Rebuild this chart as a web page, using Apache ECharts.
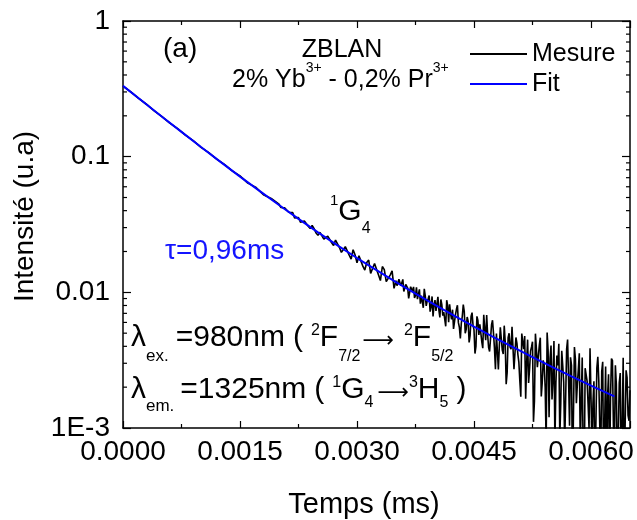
<!DOCTYPE html>
<html><head><meta charset="utf-8">
<script src="https://cdn.jsdelivr.net/npm/echarts@6/dist/echarts.min.js"></script>
<style>html,body{margin:0;padding:0;background:#fff}#c{width:637px;height:520px}</style>
</head><body><div id="c"></div>
<script>
const FONT = "'Liberation Sans', Arial, Helvetica, sans-serif";
const ARROW_FONT = "'DejaVu Sans', sans-serif";

// ---- data ----
const seriesNames = ['Mesure', 'Fit'];
const xTickLabels = ['0.0000', '0.0015', '0.0030', '0.0045', '0.0060'];
const yTickValues = [0.001, 0.01, 0.1, 1];
const yTickLabels = ['1E-3', '0.01', '0.1', '1'];
const yMinorTicks = [0.002,0.003,0.004,0.005,0.006,0.007,0.008,0.009,
                     0.02,0.03,0.04,0.05,0.06,0.07,0.08,0.09,
                     0.2,0.3,0.4,0.5,0.6,0.7,0.8,0.9];

const measured = [
 [0.0000,0.3310],[0.0001,0.2998],[0.0002,0.2685],[0.0003,0.2435],[0.0004,0.2178],
 [0.0005,0.1975],[0.0006,0.1768],[0.0007,0.1610],[0.0008,0.1440],[0.0009,0.1312],
 [0.0010,0.1172],[0.0011,0.1070],[0.0012,0.0960],[0.0013,0.0876],[0.0014,0.0785],
 [0.0015,0.0722],[0.0016,0.0638],[0.0017,0.0596],[0.0018,0.0524],[0.0019,0.0492],
 [0.002000,0.0446],[0.002025,0.0422],[0.002050,0.0414],[0.002075,0.0419],[0.002100,0.0413],
 [0.002125,0.0389],[0.002150,0.0381],[0.002175,0.0387],[0.002200,0.0354],[0.002225,0.0354],
 [0.002250,0.0356],[0.002275,0.0329],[0.002300,0.0328],[0.002325,0.0335],[0.002350,0.0332],
 [0.002375,0.0307],[0.002400,0.0295],[0.002425,0.0311],[0.002450,0.0295],[0.002475,0.0274],
 [0.002500,0.0263],[0.002525,0.0277],[0.002550,0.0276],[0.002575,0.0247],[0.002600,0.0249],
 [0.002625,0.0259],[0.002650,0.0260],[0.002675,0.0232],[0.002700,0.0221],[0.002725,0.0243],
 [0.002750,0.0228],[0.002775,0.0214],[0.002800,0.0197],[0.002825,0.0198],[0.002850,0.0217],
 [0.002875,0.0213],[0.002900,0.0188],[0.002925,0.0176],[0.002950,0.0206],[0.002975,0.0189],
 [0.003000,0.0165],[0.003025,0.0186],[0.003050,0.0182],[0.003075,0.0156],[0.003100,0.0146],
 [0.003125,0.0166],[0.003150,0.0173],[0.003175,0.0138],[0.003200,0.0142],[0.003225,0.0163],
 [0.003250,0.0162],[0.003275,0.0135],[0.003300,0.0122],[0.003325,0.0155],[0.003350,0.0147],
 [0.003375,0.0120],[0.003400,0.0122],[0.003425,0.0134],[0.003450,0.0144],[0.003475,0.0107],
 [0.0035000,0.01219],[0.0035125,0.01119],[0.0035250,0.01118],[0.0035375,0.01248],[0.0035500,0.01227],
 [0.0035625,0.01116],[0.0035750,0.01105],[0.0035875,0.01245],[0.0036000,0.01014],[0.0036125,0.00994],
 [0.0036250,0.01143],[0.0036375,0.01113],[0.0036500,0.01072],[0.0036625,0.00902],[0.0036750,0.00921],
 [0.0036875,0.01100],[0.0037000,0.01059],[0.0037125,0.01019],[0.0037250,0.01098],[0.0037375,0.00908],
 [0.0037500,0.00947],[0.0037625,0.01089],[0.0037750,0.00890],[0.0037875,0.00912],[0.0038000,0.01053],
 [0.0038125,0.00825],[0.0038250,0.00946],[0.0038375,0.00978],[0.0038500,0.00769],[0.0038625,0.01061],
 [0.0038750,0.00942],[0.0038875,0.00794],[0.0039000,0.00865],[0.0039125,0.00897],[0.0039250,0.00948],
 [0.0039375,0.00720],[0.0039500,0.00781],[0.0039625,0.00933],[0.0039750,0.00664],[0.0039875,0.00806],
 [0.0040000,0.00877],[0.0040125,0.00730],[0.0040250,0.00823],[0.0040375,0.00927],[0.0040500,0.00740],
 [0.0040625,0.00653],[0.0040750,0.00886],[0.0040875,0.00810],[0.0041000,0.00673],[0.0041125,0.00716],
 [0.0041250,0.00719],[0.0041375,0.00562],[0.0041500,0.00875],[0.0041625,0.00799],[0.0041750,0.00602],
 [0.0041875,0.00815],[0.0042000,0.00698],[0.0042125,0.00632],[0.0042250,0.00745],[0.0042375,0.00538],
 [0.0042500,0.00541],[0.0042625,0.00686],[0.0042750,0.00750],[0.0042875,0.00804],[0.0043000,0.00598],
 [0.0043125,0.00553],[0.0043250,0.00457],[0.0043375,0.00592],[0.0043500,0.00666],[0.0043625,0.00811],
 [0.0043750,0.00725],[0.0043875,0.00499],[0.0044000,0.00533],[0.0044125,0.00658],[0.0044250,0.00612],
 [0.0044375,0.00427],[0.0044500,0.00481],[0.0044625,0.00665],[0.0044750,0.00709],[0.0044875,0.00574],
 [0.0045000,0.00528],[0.0045125,0.00354],[0.0045250,0.00399],[0.0045375,0.00665],[0.0045500,0.00620],
 [0.0045625,0.00486],[0.0045750,0.00581],[0.0045875,0.00597],[0.0046000,0.00432],[0.0046125,0.00388],
 [0.0046250,0.00683],[0.0046375,0.00539],[0.0046500,0.00444],[0.0046625,0.00680],[0.0046750,0.00485],
 [0.0046875,0.00391],[0.0047000,0.00366],[0.0047125,0.00462],[0.0047250,0.00577],[0.0047375,0.00623],
 [0.0047500,0.00498],[0.0047625,0.00385],[0.0047750,0.00271],[0.0047875,0.00497],[0.0048000,0.00513],
 [0.0048125,0.00270],[0.0048250,0.00406],[0.0048375,0.00552],[0.0048500,0.00568],[0.0048625,0.00375],
 [0.0048750,0.00351],[0.0048875,0.00568],[0.0049000,0.00434],[0.0049125,0.00210],[0.0049250,0.00256],
 [0.0049375,0.00463],[0.0049500,0.00499],[0.0049625,0.00395],[0.0049750,0.00381],[0.0049875,0.00558],
 [0.0050000,0.00574],[0.0050125,0.00271],[0.0050250,0.00278],[0.0050375,0.00465],[0.0050500,0.00422],
 [0.0050625,0.00349],[0.0050750,0.00306],[0.0050875,0.00223],[0.0051000,0.00170],[0.0051125,0.00497],
 [0.0051250,0.00434],[0.0051375,0.00381],[0.0051500,0.00477],[0.0051625,0.00164],[0.0051750,0.00301],
 [0.0051875,0.00448],[0.0052000,0.00215],[0.0052125,0.00272],[0.0052250,0.00369],[0.0052375,0.00396],
 [0.0052500,0.00433],[0.0052625,0.00111],[0.0052750,0.00158],[0.0052875,0.00496],[0.0053000,0.00383],
 [0.0053125,0.00281],[0.0053250,0.00288],[0.0053375,0.00406],[0.0053500,0.00463],[0.0053625,0.00171],
 [0.0053750,0.00218],[0.0053875,0.00315],[0.0054000,0.00292],[0.0054125,0.00200],[0.0054250,0.00077],
 [0.0054375,0.00505],[0.0054500,0.00372],[0.0054625,0.00120],[0.0054750,0.00327],[0.0054875,0.00405],
 [0.0055000,0.00162],[0.0055125,0.00230],[0.0055250,0.00438],[0.0055375,0.00076],[0.0055500,0.00214],
 [0.0055625,0.00342],[0.0055750,0.00289],[0.0055875,0.00417],[0.0056000,0.00085],[0.0056125,0.00153],
 [0.0056250,0.00371],[0.0056375,0.00289],[0.0056500,0.00217],[0.0056625,0.00075],[0.0056750,0.00163],
 [0.0056875,0.00381],[0.0057000,0.00448],[0.0057125,0.00226],[0.0057250,0.00104],[0.0057375,0.00332],
 [0.0057500,0.00290],[0.0057625,0.00040],[0.0057750,0.00040],[0.0057875,0.00395],[0.0058000,0.00323],
 [0.0058125,0.00152],[0.0058250,0.00210],[0.0058375,0.00268],[0.0058500,0.00356],[0.0058625,0.00075],
 [0.0058750,0.00153],[0.0058875,0.00331],[0.0059000,0.00059],[0.0059125,0.00040],[0.0059250,0.00276],
 [0.0059375,0.00274],[0.0059500,0.00222],[0.0059625,0.00151],[0.0059750,0.00099],[0.0059875,0.00387],
 [0.0060000,0.00375],[0.0060125,0.00074],[0.0060250,0.00152],[0.0060375,0.00221],[0.0060500,0.00040],
 [0.0060625,0.00040],[0.0060750,0.00276],[0.0060875,0.00335],[0.0061000,0.00223],[0.0061125,0.00102],
 [0.0061250,0.00061],[0.0061375,0.00260],[0.0061500,0.00308],[0.0061625,0.00040],[0.0061750,0.00105],
 [0.0061875,0.00284],[0.0062000,0.00040],[0.0062125,0.00171],[0.0062250,0.00249],[0.0062375,0.00040],
 [0.0062500,0.00166],[0.0062625,0.00325],[0.0062750,0.00314],[0.0062875,0.00103],[0.0063000,0.00071],
 [0.0063125,0.00290],[0.0063250,0.00209],[0.0063375,0.00040],[0.0063500,0.00040],[0.0063625,0.00215],
 [0.0063750,0.00254],[0.0063875,0.00040],[0.0064000,0.00101],[0.0064125,0.00330],[0.0064250,0.00040],
 [0.0064375,0.00040],[0.0064500,0.00266],[0.0064625,0.00235],[0.0064750,0.00124],[0.0064875,0.00113],
 [0.0065000,0.00190]
];

const fit = [
 [0,0.3327],[0.00025,0.2559],[0.0005,0.1968],[0.00075,0.1524],[0.001,0.1178],
 [0.00125,0.0916],[0.0015,0.0713],[0.00175,0.0560],[0.002,0.0440],[0.00225,0.0348],
 [0.0025,0.0277],[0.00275,0.0222],[0.003,0.0179],[0.00325,0.01456],[0.0035,0.01189],
 [0.00375,0.00977],[0.004,0.00807],[0.00425,0.00671],[0.0045,0.00558],[0.00475,0.00468],
 [0.005,0.00394],[0.00525,0.00333],[0.0055,0.00282],[0.00575,0.00240],[0.006,0.00205],
 [0.00625,0.00176],[0.0063,0.00171]
];

// ---- layout: annotation text lines (pixel placement, pieces laid out left to right) ----
const X_MIN = 0, X_MAX = 0.0065, X_STEP = 0.0015;
const Y_MIN = 0.001, Y_MAX = 1;
const ARROW = '\u27f6';
const textLines = [
 {x:163, y:49, segs:[{t:'(a)', s:28}]},
 {x:342, y:50, align:'center', segs:[{t:'ZBLAN', s:25}]},
 {x:232, y:80, segs:[{t:'2% Yb', s:25}, {t:'3+', s:14, dy:-12}, {t:' - 0,2% Pr', s:25}, {t:'3+', s:14, dy:-12}]},
 {x:330, y:212, segs:[{t:'1', s:15, dy:-11}, {t:'G', s:30}, {t:'4', s:16, dy:17}]},
 {x:165, y:251, segs:[{t:'\u03c4=0,96ms', s:28, c:'#1414ff'}]},
 {x:131, y:338, segs:[{t:'\u03bb', s:30}, {t:'ex.', s:17, dy:18}, {t:'=980nm', s:30, gap:7},
   {t:'(', s:30, gap:8}, {t:'2', s:16, dy:-7, gap:8}, {t:'F', s:30}, {t:'7/2', s:16, dy:19},
   {t:ARROW, s:22, dy:3, gap:2, f:ARROW_FONT}, {t:'2', s:16, dy:-7, gap:10}, {t:'F', s:30}, {t:'5/2', s:16, dy:19}]},
 {x:131, y:390, segs:[{t:'\u03bb', s:30}, {t:'em.', s:17, dy:16}, {t:'=1325nm', s:30, gap:6},
   {t:'(', s:30, gap:8}, {t:'1', s:16, dy:-7, gap:8}, {t:'G', s:30}, {t:'4', s:16, dy:13},
   {t:ARROW, s:22, dy:3, gap:4, f:ARROW_FONT}, {t:'3', s:16, dy:-7}, {t:'H', s:30}, {t:'5', s:16, dy:13},
   {t:')', s:30, gap:8}]}
];

const measureCtx = document.createElement('canvas').getContext('2d');
function textWidth(t, s, f){ measureCtx.font = s + 'px ' + f; return measureCtx.measureText(t).width; }

function buildText(){
  const els = [];
  textLines.forEach(line => {
    let total = 0;
    line.segs.forEach(sg => { total += (sg.gap || 0) + textWidth(sg.t, sg.s, sg.f || FONT); });
    let x = line.align === 'center' ? line.x - total/2 : line.x;
    line.segs.forEach(sg => {
      x += (sg.gap || 0);
      const f = sg.f || FONT;
      els.push({type:'text', x:x, y:line.y + (sg.dy || 0), silent:true, z:100,
        style:{text:sg.t, fill:sg.c || '#000', fontSize:sg.s, fontFamily:f,
               align:'left', verticalAlign:'middle', textAlign:'left', textVerticalAlign:'middle'}});
      x += textWidth(sg.t, sg.s, f);
    });
  });
  return els;
}

const chart = echarts.init(document.getElementById('c'), null, {renderer:'canvas'});

function yLabel(v){
  for (let i=0;i<yTickValues.length;i++){
    if (Math.abs(Math.log10(v) - Math.log10(yTickValues[i])) < 1e-6) return yTickLabels[i];
  }
  return '';
}
function xLabel(v){
  const i = Math.round(v / X_STEP);
  if (Math.abs(v - i*X_STEP) < 1e-9 && i < xTickLabels.length) return xTickLabels[i];
  return '';
}

const axisLineStyle = {color:'#000', width:1.5};

const option = {
  animation:false,
  backgroundColor:'#fff',
  textStyle:{fontFamily:FONT},
  grid:{left:123, right:7, top:21, bottom:92, containLabel:false, outerBoundsMode:'none'},
  legend:{
    data:seriesNames.map(n => ({name:n, icon:'rect'})),
    orient:'vertical', left:470, top:41, padding:0,
    itemWidth:57, itemHeight:2, itemGap:4,
    textStyle:{fontFamily:FONT, fontSize:25, color:'#000', lineHeight:26}
  },
  xAxis:[{
    type:'value', min:X_MIN, max:X_MAX, interval:X_STEP, position:'bottom',
    axisLine:{show:true, onZero:false, lineStyle:axisLineStyle},
    axisTick:{show:true, inside:true, length:7, lineStyle:{color:'#000', width:1.2}},
    minorTick:{show:true, splitNumber:2, length:4, lineStyle:{color:'#000', width:1.2}},
    splitLine:{show:false},
    axisLabel:{show:true, showMaxLabel:false, margin:10, fontSize:28, color:'#000', fontFamily:FONT, formatter:xLabel},
    name:'Temps (ms)', nameLocation:'middle', nameGap:62,
    nameTextStyle:{fontSize:29, color:'#000', fontFamily:FONT, padding:[0,25,0,0]}
  },{
    type:'value', min:X_MIN, max:X_MAX, interval:X_STEP, position:'top',
    axisLine:{show:true, onZero:false, lineStyle:axisLineStyle},
    axisTick:{show:true, inside:true, length:7, lineStyle:{color:'#000', width:1.2}},
    minorTick:{show:true, splitNumber:2, length:4, lineStyle:{color:'#000', width:1.2}},
    splitLine:{show:false}, axisLabel:{show:false}
  }],
  yAxis:[{
    type:'log', logBase:10, min:Y_MIN, max:Y_MAX, position:'left',
    axisLine:{show:true, onZero:false, lineStyle:axisLineStyle},
    axisTick:{show:true, inside:true, length:8, lineStyle:{color:'#000', width:1.2}},
    splitLine:{show:false},
    axisLabel:{show:true, margin:13, fontSize:28, color:'#000', fontFamily:FONT, formatter:yLabel},
    name:'Intensit\u00e9 (u.a)', nameLocation:'middle', nameGap:84,
    nameTextStyle:{fontSize:28, color:'#000', fontFamily:FONT, padding:[0,0,0,16]}
  },{
    type:'log', logBase:10, min:Y_MIN, max:Y_MAX, position:'right',
    axisLine:{show:true, onZero:false, lineStyle:axisLineStyle},
    axisTick:{show:true, inside:true, length:8, lineStyle:{color:'#000', width:1.2}},
    splitLine:{show:false}, axisLabel:{show:false}
  }],
  series:[
    {
      name:'Mesure', type:'line', data:measured, xAxisIndex:0, yAxisIndex:0,
      showSymbol:false, symbol:'none', clip:true,
      lineStyle:{color:'#000', width:1.6}, itemStyle:{color:'#000'}, z:2
    },
    {
      name:'Fit', type:'line', data:fit, xAxisIndex:0, yAxisIndex:0,
      showSymbol:false, symbol:'none', smooth:false, clip:true,
      lineStyle:{color:'#0000ff', width:2}, itemStyle:{color:'#0000ff'}, z:3
    },
    {
      name:'minorY', type:'custom', xAxisIndex:0, yAxisIndex:0, silent:true, z:4,
      data:yMinorTicks.map(v => [X_MIN, v]),
      renderItem:function(params, api){
        const p = api.coord([X_MIN, api.value(1)]);
        const q = api.coord([X_MAX, api.value(1)]);
        return {type:'group', children:[
          {type:'line', shape:{x1:p[0], y1:p[1], x2:p[0]+4, y2:p[1]}, style:{stroke:'#000', lineWidth:1.2}},
          {type:'line', shape:{x1:q[0], y1:q[1], x2:q[0]-4, y2:q[1]}, style:{stroke:'#000', lineWidth:1.2}}
        ]};
      }
    }
  ],
  graphic: buildText()
};
chart.setOption(option);
</script></body></html>
